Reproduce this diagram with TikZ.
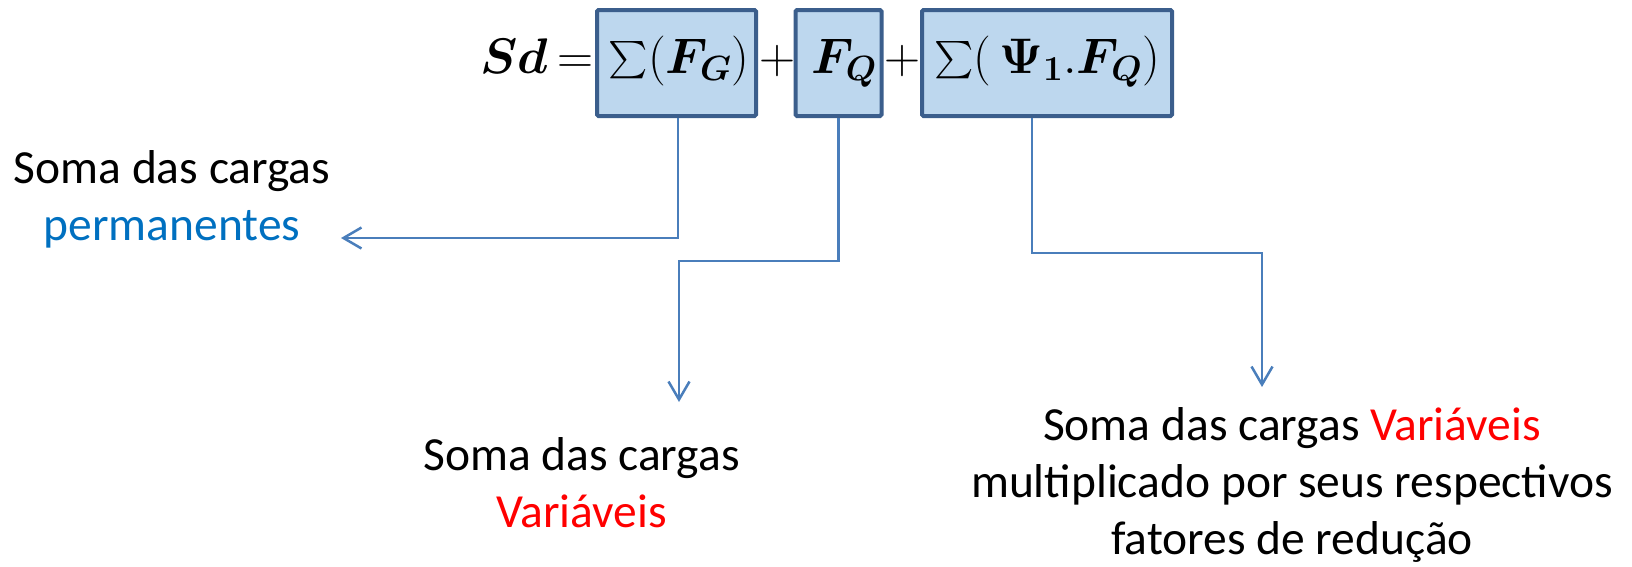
\RequirePackage{fix-cm}
\documentclass[tikz,border=0pt]{standalone}
\usepackage{amsmath,bm}
\usepackage{fontspec}
\setmainfont{Carlito}
\usetikzlibrary{arrows.meta}
\definecolor{boxfill}{HTML}{BDD7EE}
\definecolor{boxdraw}{HTML}{3B5E8C}
\definecolor{linec}{HTML}{4A7EBB}
\definecolor{bluetxt}{HTML}{0070C0}
\definecolor{redtxt}{HTML}{FF0000}
\newcommand{\bigsum}{\mathop{\vcenter{\hbox{\scalebox{1.5}{$\sum$}}}}\nolimits}
\begin{document}
\begin{tikzpicture}[x=1pt,y=-1pt,
  termbox/.style={draw=boxdraw,fill=boxfill,line width=4pt,rounded corners=1.5pt,inner sep=0pt},
  mathtxt/.style={anchor=base,inner sep=0pt,font=\fontsize{50}{60}\selectfont},
  conn/.style={draw=linec,line width=2.5pt},
  tip/.style={-{Straight Barb[length=18pt,width=21pt]}},
  lbl/.style={align=center,inner sep=0pt,font=\fontsize{47.5}{57}\selectfont}]
\useasboundingbox (0,0) rectangle (1632,566);
% boxes
\node[termbox,minimum width=159pt,minimum height=106pt] (b1) at (676.5,63) {};
\node[termbox,minimum width=86pt,minimum height=106pt] (b2) at (838.5,63) {};
\node[termbox,minimum width=250pt,minimum height=106pt] (b3) at (1047,63) {};
% formula
\node[mathtxt] (sd) at (514.5,73) {$\bm{Sd}$};
\node[mathtxt] (eq) at (575,73) {$=$};
\node[mathtxt] (t1) at (679,73) {$\bigsum(\bm{F_G})$};
\node[mathtxt] (p1) at (777,73) {$+$};
\node[mathtxt] (t2) at (844,73) {$\bm{F_Q}$};
\node[mathtxt] (p2) at (902,73) {$+$};
\node[mathtxt] (t3) at (1047,73) {$\bigsum(\,\bm{\Psi_1}.\bm{F_Q})$};
% free ends
\coordinate (e1) at (341,238);
\coordinate (k2) at (679,261);
\coordinate (e2) at (679,402);
\coordinate (k3a) at (1032,253);
\coordinate (k3b) at (1262,253);
\coordinate (e3) at (1262,387);
% connectors
\draw[conn,tip] (b1.south -| 678,0) |- (e1);
\draw[conn,tip] (b2.south) |- (k2) -- (e2);
\draw[conn,tip] (b3.south -| k3a) -- (k3a) -- (k3b) -- (e3);
% labels
\node[lbl] (l1) at (172,199) {Soma das cargas\\\textcolor{bluetxt}{permanentes}};
\node[lbl] (l2) at (581.5,483) {Soma das cargas\\\textcolor{redtxt}{Variáveis}};
\node[lbl] (l3) at (1292,485) {Soma das cargas \textcolor{redtxt}{Variáveis}\\multiplicado por seus respectivos\\fatores de redução};
\end{tikzpicture}
\end{document}
